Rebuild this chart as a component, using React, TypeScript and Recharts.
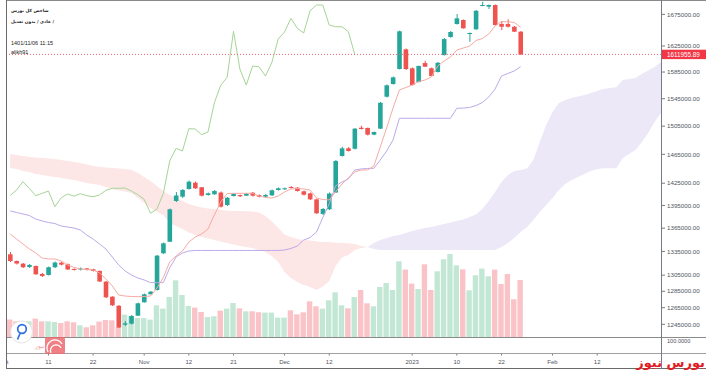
import {
  ComposedChart,
  Bar,
  Line,
  Area,
  XAxis,
  YAxis,
  ReferenceLine,
  Cell,
} from "recharts";

// daily bars, TSE index (Oct 2022 - Jan 2023)
const opens = [
  1331300, 1322800, 1319400, 1315300, 1316500, 1306500, 1305200, 1314900, 1320700, 1318700,
  1312800, 1312100, 1313400, 1312400, 1310300, 1296900, 1278400, 1267300, 1244600, 1245800,
  1255300, 1271500, 1281300, 1286600, 1332600, 1347400, 1401000, 1406800, 1417200, 1425700,
  1419500, 1409000, 1410000, 1412400, 1395600, 1407700, 1409000, 1408100, 1412100, 1409000,
  1406800, 1408600, 1415800, 1416800, 1419900, 1418900, 1414000, 1411300, 1403200, 1383700,
  1389900, 1412400, 1462600, 1473400, 1472800, 1502800, 1502400, 1492800, 1501400, 1548000,
  1566900, 1589600, 1619800, 1590700, 1569900, 1598700, 1590700, 1585100, 1610900, 1639000,
  1659500, 1665900, 1643700, 1651100, 1688400, 1687300, 1690000, 1659500, 1659500, 1655200,
  1647400,
];
const highs = [
  1334300, 1323500, 1320300, 1319000, 1317200, 1307700, 1315900, 1322200, 1322200, 1319700,
  1313400, 1314700, 1314000, 1313000, 1310900, 1297800, 1279000, 1268200, 1249000, 1256200,
  1271300, 1282300, 1285400, 1330500, 1346400, 1391000, 1413100, 1417200, 1428700, 1427300,
  1420000, 1412400, 1415800, 1413700, 1406300, 1411700, 1409700, 1411700, 1413100, 1409700,
  1410400, 1416500, 1419200, 1419200, 1421300, 1419900, 1415100, 1412400, 1404300, 1391700,
  1412400, 1457000, 1475700, 1475300, 1502400, 1505700, 1503100, 1497300, 1540100, 1566200,
  1578200, 1649200, 1621000, 1591900, 1595000, 1602200, 1591900, 1600200, 1637400, 1648400,
  1675500, 1666700, 1646100, 1681900, 1695400, 1690800, 1690800, 1664200, 1667000, 1656300,
  1648400,
];
const lows = [
  1321600, 1318400, 1314000, 1314000, 1305200, 1302700, 1304600, 1314000, 1317200, 1311500,
  1310900, 1310900, 1310900, 1309600, 1296500, 1276800, 1267000, 1240700, 1243100, 1244800,
  1255300, 1271300, 1281300, 1286000, 1331700, 1347000, 1399600, 1405000, 1416500, 1417200,
  1407000, 1408400, 1409400, 1392300, 1394300, 1407000, 1406300, 1407700, 1407000, 1405700,
  1405700, 1407700, 1415100, 1415800, 1417800, 1413700, 1408400, 1402300, 1383700, 1382400,
  1389000, 1411700, 1461900, 1468900, 1471700, 1500200, 1491700, 1492100, 1500900, 1546800,
  1566200, 1588900, 1588100, 1564700, 1569100, 1592600, 1578200, 1584300, 1610100, 1637900,
  1658700, 1652400, 1631600, 1650500, 1687900, 1683500, 1657200, 1650000, 1654100, 1646900,
  1611000,
];
const closes = [
  1322800, 1319700, 1314900, 1317800, 1306100, 1304000, 1314900, 1320900, 1318200, 1312100,
  1311500, 1313400, 1311500, 1310300, 1297100, 1277600, 1267900, 1241300, 1246300, 1255000,
  1270300, 1281300, 1284500, 1329600, 1345400, 1389900, 1408400, 1415800, 1427100, 1418100,
  1408100, 1411300, 1414400, 1393400, 1405400, 1410400, 1407400, 1410800, 1408100, 1406800,
  1409000, 1415400, 1418100, 1418100, 1418500, 1414400, 1409400, 1403200, 1384600, 1390300,
  1411000, 1455600, 1473400, 1469600, 1501400, 1500900, 1492800, 1496600, 1539100, 1565000,
  1577000, 1648000, 1589600, 1565400, 1594200, 1593100, 1579000, 1599100, 1635800, 1646900,
  1668600, 1652700, 1645300, 1680700, 1690000, 1690000, 1658000, 1655200, 1655200, 1647400,
  1611955.89,
];
// volume, relative units
const volumes = [
  174, 157, 144, 157, 184, 157, 157, 150, 140, 157,
  147, 117, 97, 117, 154, 170, 167, 100, 224, 207,
  190, 190, 174, 317, 284, 400, 567, 420, 310, 294,
  250, 200, 207, 264, 284, 340, 287, 257, 257, 247,
  244, 244, 194, 194, 267, 227, 247, 357, 307, 284,
  367, 447, 317, 287, 400, 470, 337, 307, 500, 540,
  470, 757, 674, 534, 480, 727, 470, 657, 777, 830,
  717, 677, 467, 617, 684, 607, 674, 530, 630, 377,
  570,
];
// ichimoku
const tenkan = [
  1357400, 1350900, 1344500, 1338100, 1333000, 1326600, 1325400, 1325400, 1322800, 1317800,
  1314700, 1312800, 1312100, 1311500, 1307800, 1300300, 1291600, 1280500, 1279200, 1278600,
  1278400, 1278600, 1279200, 1289100, 1302000, 1321600, 1329200, 1335500, 1347000, 1353500,
  1357400, 1363900, 1382400, 1399600, 1411100, 1411300, 1411300, 1411300, 1411300, 1407700,
  1405700, 1405000, 1407700, 1413100, 1417200, 1417800, 1417200, 1415800, 1405000, 1403000,
  1402300, 1413100, 1424000, 1432200, 1440400, 1443200, 1443200, 1448700, 1475300, 1502400,
  1531300, 1558000, 1561700, 1565400, 1570700, 1572900, 1577500, 1594200, 1601800, 1607900,
  1618700, 1621800, 1624900, 1633500, 1636700, 1643700, 1656400, 1663200, 1663200, 1661900,
  1654300,
];
const kijun = [
  1387700, 1385700, 1383700, 1381700, 1377000, 1374400, 1372400, 1371100, 1367800, 1366500,
  1365200, 1362600, 1356100, 1350900, 1344500, 1338100, 1327900, 1317800, 1310300, 1305300,
  1301500, 1299000, 1295700, 1295700, 1295700, 1314000, 1327900, 1333000, 1335500, 1336200,
  1336200, 1336200, 1336200, 1336200, 1336200, 1336200, 1336200, 1336200, 1336200, 1336200,
  1336200, 1336200, 1336200, 1336800, 1338700, 1341900, 1349600, 1352800, 1360000, 1379000,
  1397000, 1421300, 1426700, 1430800, 1443200, 1444600, 1445300, 1445500, 1457000, 1469600,
  1485200, 1516400, 1516400, 1516400, 1516400, 1516400, 1516400, 1516400, 1516400, 1516400,
  1530900, 1531300, 1532100, 1535000, 1539400, 1547600, 1559500, 1579000, 1582800, 1586600,
  1593100,
];
// leading spans, already shifted 26 bars forward (index 0..102)
const spanA = [
  1446000, 1444600, 1441800, 1440400, 1437700, 1436300, 1434900, 1433500, 1432200, 1430800,
  1429400, 1427400, 1425300, 1424000, 1422600, 1419900, 1417200, 1415100, 1413800, 1411800,
  1405000, 1398300, 1391700, 1386300, 1382400, 1371800, 1367800, 1363900, 1359400, 1356100,
  1353500, 1351500, 1349600, 1347700, 1345800, 1343800, 1341900, 1340600, 1338900, 1336800,
  1334300, 1329200, 1321600, 1309000, 1301500, 1296500, 1292800, 1290300, 1286600, 1290900,
  1297800, 1316500, 1327300, 1330500, 1336800, 1339400, 1340600, 1345800, 1349600, 1352200,
  1354800, 1356100, 1358700, 1361300, 1363300, 1365200, 1366500, 1368500, 1370500, 1372400,
  1374400, 1376400, 1379700, 1383000, 1390300, 1401000, 1413100, 1426700, 1436300, 1441800,
  1443200, 1445300, 1457000, 1482400, 1506700, 1525500, 1538700, 1543100, 1546000, 1548300,
  1550500, 1553500, 1556500, 1559500, 1561000, 1562000, 1572900, 1574400, 1576000, 1582000,
  1587300, 1592600, 1600300,
];
const spanB = [
  1465400, 1464000, 1462600, 1461200, 1460500, 1459800, 1459100, 1458400, 1457000, 1455600,
  1454200, 1452900, 1450800, 1448700, 1447300, 1446700, 1446000, 1445300, 1444600, 1443200,
  1439100, 1433500, 1428000, 1421300, 1414500, 1409000, 1405000, 1401000, 1397000, 1394300,
  1392300, 1391000, 1390300, 1389000, 1388100, 1387700, 1387700, 1387300, 1387000, 1385700,
  1381000, 1373700, 1365200, 1356700, 1353500, 1350900, 1349600, 1349000, 1347700, 1347000,
  1346700, 1346100, 1345800, 1345400, 1344500, 1341900, 1340600, 1338100, 1336800, 1336800,
  1336800, 1336800, 1336800, 1336800, 1336800, 1336800, 1336800, 1336800, 1336800, 1336800,
  1336800, 1336800, 1336800, 1336800, 1336800, 1336800, 1336800, 1340600, 1345800, 1352200,
  1360000, 1366500, 1375700, 1386300, 1395600, 1405000, 1415800, 1424000, 1429400, 1433500,
  1437700, 1441800, 1444600, 1445500, 1445500, 1445500, 1459800, 1465400, 1471000, 1482400,
  1495200, 1511000, 1524000,
];

const yTicks = [
  1245000, 1265000, 1285000, 1305000, 1335000, 1365000, 1395000, 1425000, 1465000, 1505000,
  1545000, 1585000, 1625000, 1675000,
];
const xTicks = [-1, 6, 13, 21, 28, 35, 43, 50, 63, 70, 77, 85, 92];
const xTickLabels = ["Oct", "11", "22", "Nov", "12", "21", "Dec", "12", "2023", "10", "22", "Feb", "12"];

const lastPrice = 1611955.89;
const LAG = 26;
const SLOTS = spanA.length;

const UP = "#26a69a";
const DOWN = "#ef5350";
const UP_VOL = "#c3e7d5";
const DOWN_VOL = "#f9c3c7";
const FONT = "Liberation Sans";

const data = Array.from({ length: SLOTS }, (_, i) => {
  const has = i < closes.length;
  const o = opens[i];
  const c = closes[i];
  const a = spanA[i];
  const b = spanB[i];
  return {
    i,
    body: has ? [Math.min(o, c), Math.max(o, c)] : null,
    wick: has ? [lows[i], highs[i]] : null,
    up: has ? c >= o : true,
    vol: has ? volumes[i] : null,
    tenkan: i < tenkan.length ? tenkan[i] : null,
    kijun: i < kijun.length ? kijun[i] : null,
    chikou: i + LAG < closes.length ? closes[i + LAG] : null,
    bear: a <= b ? [a, b] : null,
    bull: a >= b ? [b, a] : null,
  };
});

const TimeTick = (props: any) => {
  const { x, y, payload } = props;
  const k = xTicks.indexOf(payload.value);
  return (
    <svg x={7} y={y} width={654} height={38} overflow="hidden">
      <line x1={x - 7} x2={x - 7} y1={16} y2={18.5} stroke="#787b86" />
      <text x={x - 7} y={27} textAnchor="middle" fontSize={6} fill="#50535e" fontFamily={FONT}>
        {k >= 0 ? xTickLabels[k] : ""}
      </text>
    </svg>
  );
};

const PriceTag = (props: any) => {
  const { viewBox } = props;
  if (!viewBox) return null;
  const x = viewBox.x + viewBox.width;
  const y = viewBox.y;
  return (
    <g>
      <rect x={x + 1} y={y - 4.7} width={45} height={9.4} fill="#f23645" />
      <text x={x + 6} y={y + 2.2} fontSize={6.3} fill="#fff" fontFamily={FONT}>
        {lastPrice.toFixed(2)}
      </text>
    </g>
  );
};

const hLine = (top: number, color = "#8a8a8a") => (
  <div style={{ position: "absolute", left: 6, top, width: 700, height: 1, background: color }} />
);

export default function App() {
  return (
    <div
      style={{
        position: "absolute",
        left: 0,
        top: 0,
        width: 706,
        height: 375,
        background: "#fff",
        overflow: "hidden",
      }}
    >
      <ComposedChart
        width={706}
        height={375}
        data={data}
        margin={{ top: 1, right: 0, bottom: 0, left: 7 }}
      >
        <XAxis
          xAxisId="main"
          dataKey="i"
          type="number"
          domain={[-0.5, 102]}
          allowDataOverflow
          ticks={xTicks}
          interval={0}
          height={38}
          tickSize={0}
          tickMargin={0}
          tickLine={false}
          axisLine={false}
          tick={<TimeTick />}
        />
        <XAxis xAxisId="wick" dataKey="i" type="number" domain={[-0.5, 102]} allowDataOverflow hide />
        <XAxis xAxisId="vol" dataKey="i" type="number" domain={[-0.5, 102]} allowDataOverflow hide />
        <YAxis
          yAxisId="price"
          orientation="right"
          scale="log"
          domain={[1230000, 1696500]}
          allowDataOverflow
          ticks={yTicks}
          interval={0}
          width={45}
          axisLine={false}
          tickSize={4}
          tickMargin={2}
          tickLine={{ stroke: "#787b86" }}
          tick={{ fontSize: 6.2, fill: "#50535e", fontFamily: FONT }}
          tickFormatter={(v: number) => v.toFixed(2)}
        />
        <YAxis yAxisId="vol" domain={[0, 3360]} hide />

        <Area
          xAxisId="main"
          yAxisId="price"
          dataKey="bear"
          stroke="none"
          fill="#fde6e6"
          fillOpacity={1}
          isAnimationActive={false}
        />
        <Area
          xAxisId="main"
          yAxisId="price"
          dataKey="bull"
          stroke="none"
          fill="#ece8f8"
          fillOpacity={1}
          isAnimationActive={false}
        />

        <Bar xAxisId="vol" yAxisId="vol" dataKey="vol" barSize={5.4} isAnimationActive={false}>
          {data.map((d) => (
            <Cell key={d.i} fill={d.up ? UP_VOL : DOWN_VOL} />
          ))}
        </Bar>

        <Line
          xAxisId="main"
          yAxisId="price"
          dataKey="chikou"
          stroke="#a6d497"
          strokeWidth={1}
          dot={false}
          isAnimationActive={false}
        />
        <Line
          xAxisId="main"
          yAxisId="price"
          dataKey="kijun"
          stroke="#bcaae8"
          strokeWidth={1}
          dot={false}
          isAnimationActive={false}
        />
        <Line
          xAxisId="main"
          yAxisId="price"
          dataKey="tenkan"
          stroke="#f7aaa3"
          strokeWidth={1}
          dot={false}
          isAnimationActive={false}
        />

        <ReferenceLine
          xAxisId="main"
          yAxisId="price"
          y={lastPrice}
          stroke="#ef6a72"
          strokeDasharray="1 2"
          label={<PriceTag />}
        />

        <Bar xAxisId="wick" yAxisId="price" dataKey="wick" barSize={1} isAnimationActive={false}>
          {data.map((d) => (
            <Cell key={d.i} fill={d.up ? UP : DOWN} />
          ))}
        </Bar>
        <Bar xAxisId="main" yAxisId="price" dataKey="body" barSize={4.6} isAnimationActive={false}>
          {data.map((d) => (
            <Cell key={d.i} fill={d.up ? UP : DOWN} />
          ))}
        </Bar>
      </ComposedChart>

      {/* pane frame */}
      {hLine(0)}
      {hLine(337)}
      {hLine(353, "#a0a0a0")}
      {hLine(368, "#6b6b6b")}
      <div style={{ position: "absolute", left: 6, top: 0, width: 1, height: 369, background: "#6b6b6b" }} />
      <div style={{ position: "absolute", left: 661, top: 0, width: 1, height: 369, background: "#787b86" }} />
      <div
        style={{
          position: "absolute",
          left: 667,
          top: 338,
          fontFamily: FONT,
          fontSize: 5.6,
          lineHeight: "7px",
          color: "#50535e",
        }}
      >
        100.0000
      </div>

      {/* legend */}
      <div
        style={{
          position: "absolute",
          left: 11,
          top: 5,
          fontFamily: "DejaVu Sans",
          fontSize: 4.4,
          fontWeight: 700,
          color: "#222",
          lineHeight: "11px",
          whiteSpace: "nowrap",
        }}
      >
        <div>شاخص کل بورس</div>
        <div>عادی / بدون تعدیل /</div>
      </div>
      <div
        style={{
          position: "absolute",
          left: 11,
          top: 39,
          fontFamily: FONT,
          fontSize: 5.5,
          color: "#222",
          lineHeight: "9px",
        }}
      >
        <div>1401/11/06 11:15</div>
        <div>alikh91</div>
      </div>

      {/* watermarks */}
      <svg style={{ position: "absolute", left: 8, top: 319 }} width={62} height={38}>
        <circle cx={13.5} cy={13} r={11} fill="#fff" stroke="#e3e3e3" />
        <circle cx={14} cy={10} r={4.3} fill="none" stroke="#2f6ee0" strokeWidth={1.7} />
        <path d="M12 14.5 L9.5 20.5" stroke="#2f6ee0" strokeWidth={1.7} fill="none" />
        <text x={27} y={29} fontSize={6} fill="#e57373" fontFamily="DejaVu Sans" opacity={0.7}>
          بورس نیوز
        </text>
        <rect x={37} y={18} width={20} height={17} rx={2} fill="#ec6a70" opacity={0.85} />
        <path d="M40 33 a8 8 0 0 1 14 -8" stroke="#fff" strokeWidth={1.3} fill="none" />
        <path d="M43 34 a5 5 0 0 1 10 -5" stroke="#fff" strokeWidth={1.3} fill="none" />
      </svg>
      <div
        style={{
          position: "absolute",
          right: 1,
          top: 354,
          fontFamily: "DejaVu Sans",
          fontSize: 13,
          fontWeight: 700,
          color: "#e21b23",
          lineHeight: "18px",
          whiteSpace: "nowrap",
        }}
      >
        بورس نیوز
      </div>
    </div>
  );
}
